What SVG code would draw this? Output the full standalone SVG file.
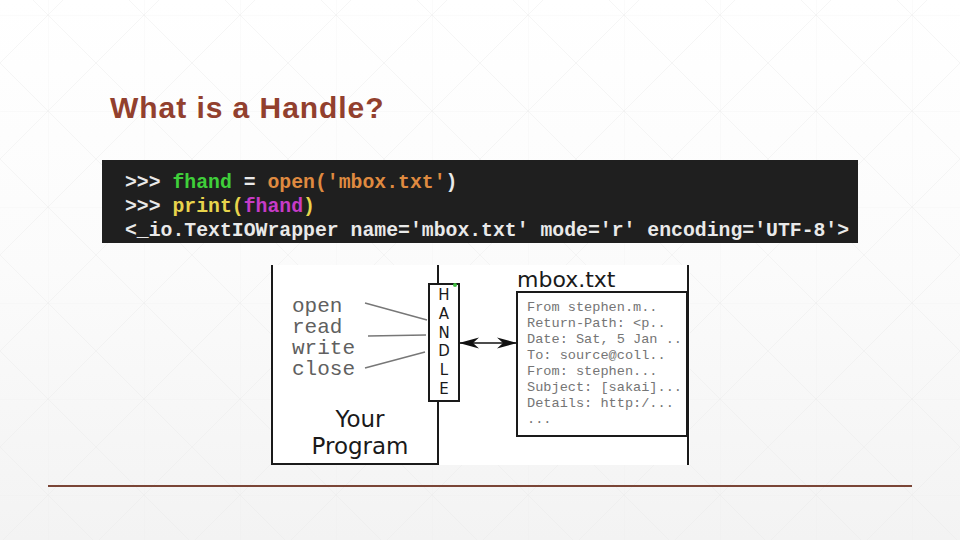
<svg xmlns="http://www.w3.org/2000/svg" width="960" height="540" viewBox="0 0 960 540">
<defs>
<linearGradient id="bg" x1="0" y1="0" x2="0" y2="1">
<stop offset="0" stop-color="#ffffff"/>
<stop offset="0.5" stop-color="#fbfbfb"/>
<stop offset="1" stop-color="#f3f3f3"/>
</linearGradient>
<pattern id="grid" x="48" y="15" width="96" height="96" patternUnits="userSpaceOnUse">
<path d="M0 0H96M0 0V96M0 0L96 96M96 0L0 96" fill="none" stroke="#e8e8e8" stroke-width="1" opacity="0.4"/>
</pattern>
<marker id="ah" viewBox="0 0 20 12" refX="19" refY="6" markerWidth="20" markerHeight="12" markerUnits="userSpaceOnUse" orient="auto-start-reverse">
<path d="M0 0.5L20 6L0 11.5L6 6Z" fill="#111"/>
</marker>
<style>
.code{font-family:"Liberation Mono","DejaVu Sans Mono",monospace;font-size:19.8px;font-weight:bold;fill:#e9e9e9}
.g{fill:#3fcf3a}.o{fill:#df8a40}.y{fill:#e8d44c}.m{fill:#c63bc6}
.op{font-family:"Liberation Mono",monospace;font-size:21px;fill:#606060}
.mb{font-family:"Liberation Mono",monospace;font-size:13.6px;fill:#757575}
.sans{font-family:"DejaVu Sans","Liberation Sans",sans-serif;fill:#1a1a1a}
.box{fill:#fff;stroke:#1a1a1a;stroke-width:2}
.lead{stroke:#777;stroke-width:1.3;fill:none}
</style>
</defs>
<rect width="960" height="540" fill="url(#bg)"/>
<rect width="960" height="540" fill="url(#grid)"/>
<text x="110" y="118" font-family="Liberation Sans,Arial,sans-serif" font-size="30" font-weight="bold" fill="#92402e" letter-spacing="0.95">What is a Handle?</text>
<g id="code">
<rect x="102" y="160" width="756" height="83" fill="#1f1f1f"/>
<text class="code" x="125" y="188" xml:space="preserve">&gt;&gt;&gt; <tspan class="g">fhand</tspan> = <tspan class="o">open('mbox.txt'</tspan>)</text>
<text class="code" x="125" y="212" xml:space="preserve">&gt;&gt;&gt; <tspan class="y">print(</tspan><tspan class="m">fhand</tspan><tspan class="y">)</tspan></text>
<text class="code" x="125" y="236" xml:space="preserve">&lt;_io.TextIOWrapper name='mbox.txt' mode='r' encoding='UTF-8'&gt;</text>
</g>
<rect x="271" y="265" width="419" height="200" fill="#fff"/>
<g id="program">
<path d="M272 265V464H438V265" fill="none" stroke="#1a1a1a" stroke-width="2"/>
<text class="op" x="292" y="312">open</text>
<text class="op" x="292" y="333">read</text>
<text class="op" x="292" y="354">write</text>
<text class="op" x="292" y="375">close</text>
<text class="sans" x="360" y="427" font-size="23" text-anchor="middle">Your</text>
<text class="sans" x="360" y="454" font-size="23" text-anchor="middle">Program</text>
</g>
<g id="handle">
<rect class="box" x="429" y="284" width="30" height="117"/>
<circle cx="455" cy="285" r="2" fill="#3fbf3f"/>
<g class="sans" font-size="15" text-anchor="middle">
<text x="444" y="300">H</text>
<text x="444" y="319">A</text>
<text x="444" y="338">N</text>
<text x="444" y="356">D</text>
<text x="444" y="375">L</text>
<text x="444" y="394">E</text>
</g>
</g>
<g id="mbox">
<line x1="688" y1="265" x2="688" y2="465" stroke="#1a1a1a" stroke-width="2"/>
<text class="sans" x="517" y="287" font-size="22">mbox.txt</text>
<rect class="box" x="517" y="292" width="170" height="144"/>
<text class="mb" x="527" y="311">From stephen.m..</text>
<text class="mb" x="527" y="327">Return-Path: &lt;p..</text>
<text class="mb" x="527" y="343">Date: Sat, 5 Jan ..</text>
<text class="mb" x="527" y="359">To: source@coll..</text>
<text class="mb" x="527" y="375">From: stephen...</text>
<text class="mb" x="527" y="391">Subject: [sakai]...</text>
<text class="mb" x="527" y="407">Details: http:/...</text>
<text class="mb" x="527" y="423">...</text>
</g>
<g id="connectors">
<line class="lead" x1="365" y1="303" x2="427" y2="320"/>
<line class="lead" x1="368" y1="336" x2="426" y2="335"/>
<line class="lead" x1="365" y1="368" x2="425" y2="352"/>
<line x1="460" y1="343" x2="516" y2="343" stroke="#111" stroke-width="1.6" marker-start="url(#ah)" marker-end="url(#ah)"/>
</g>
<line x1="48" y1="486" x2="912" y2="486" stroke="#7a4536" stroke-width="2"/>
</svg>
